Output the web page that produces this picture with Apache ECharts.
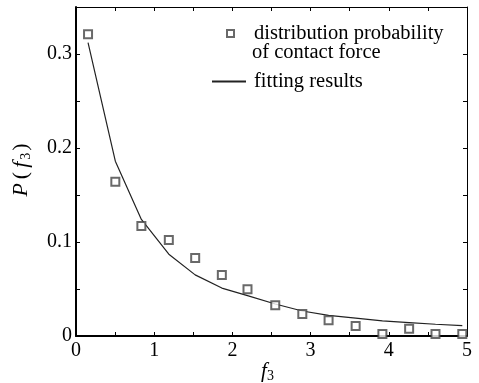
<!DOCTYPE html>
<html><head><meta charset="utf-8">
<script src="https://cdn.jsdelivr.net/npm/echarts@6/dist/echarts.min.js"></script>
<style>html,body{margin:0;padding:0;background:#fff}#c{width:479px;height:383px}</style>
</head><body><div id="c"></div>
<script>
var xValues = [0.154, 0.503, 0.836, 1.187, 1.524, 1.865, 2.193, 2.548, 2.894, 3.23, 3.576, 3.918, 4.26, 4.597, 4.94];
var probValues = [0.321, 0.164, 0.117, 0.102, 0.083, 0.065, 0.0497, 0.0327, 0.0234, 0.0167, 0.0106, 0.002, 0.0078, 0.002, 0.002];
var fitValues = [0.312, 0.186, 0.124, 0.087, 0.065, 0.051, 0.043, 0.034, 0.0266, 0.022, 0.019, 0.016, 0.0142, 0.0125, 0.011];
var xTicks = [0, 1, 2, 3, 4, 5];
var yTicks = [0, 0.1, 0.2, 0.3];
var seriesNames = ['distribution probability', 'fitting results'];
var legendExtra = 'of contact force';

var serif = '"Liberation Serif","Times New Roman",serif';
var chart = echarts.init(document.getElementById('c'), null, {renderer: 'canvas'});
function pairs(xs, ys) { return xs.map(function (x, i) { return [x, ys[i]]; }); }
var axisCommon = {
  min: 0,
  axisLine: {show: true, onZero: false, lineStyle: {color: '#000', width: 1}},
  axisTick: {show: true, inside: true, length: 4, lineStyle: {color: '#000'}},
  minorTick: {show: true, splitNumber: 2, length: 4, lineStyle: {color: '#000'}},
  splitLine: {show: false}
};
var legendText = {fontFamily: serif, fontSize: 20.5, color: '#000'};
var option = {
  animation: false,
  grid: {left: 76, right: 12, top: 7, bottom: 47, containLabel: false, outerBoundsMode: 'none'},
  xAxis: [
    Object.assign({}, axisCommon, {
      type: 'value', max: 5, interval: 1, position: 'bottom',
      axisLine: {show: true, onZero: false, lineStyle: {color: '#000', width: 2}},
      axisLabel: {fontFamily: serif, fontSize: 20, color: '#000', margin: 5,
        formatter: function (v) { return xTicks.indexOf(v) >= 0 ? String(v) : ''; }},
      name: '{i|f}{s|3}', nameLocation: 'middle', nameGap: 23, nameMoveOverlap: false,
      nameTextStyle: {padding: [0, 8, 0, 0], rich: {
        i: {fontFamily: serif, fontStyle: 'italic', fontSize: 21, color: '#000'},
        s: {fontFamily: serif, fontSize: 14, color: '#000', padding: [10, 0, 0, 0]}
      }}
    }),
    Object.assign({}, axisCommon, {
      type: 'value', max: 5, interval: 1, position: 'top', axisLabel: {show: false}
    })
  ],
  yAxis: [
    Object.assign({}, axisCommon, {
      type: 'value', max: 0.35, interval: 0.1, position: 'left',
      axisLine: {show: true, onZero: false, lineStyle: {color: '#000', width: 2}},
      axisLabel: {fontFamily: serif, fontSize: 20, color: '#000', margin: 4, showMaxLabel: false,
        padding: [4, 0, 0, 0],
        formatter: function (v) {
          for (var k = 0; k < yTicks.length; k++) { if (Math.abs(yTicks[k] - v) < 1e-9) return String(yTicks[k]); }
          return '';
        }},
      name: '{i|P}{n|(}{i|f}{s|3}{n|)}', nameLocation: 'middle', nameGap: 43, nameRotate: 90,
      nameMoveOverlap: false,
      nameTextStyle: {padding: [0, 0, 0, 3], rich: {
        i: {fontFamily: serif, fontStyle: 'italic', fontSize: 22, color: '#000', padding: [0, 2, 0, 2]},
        n: {fontFamily: serif, fontSize: 22, color: '#000', padding: [0, 2, 0, 2]},
        s: {fontFamily: serif, fontSize: 14, color: '#000', padding: [10, 0, 0, 0]}
      }}
    }),
    Object.assign({}, axisCommon, {
      type: 'value', max: 0.35, interval: 0.1, position: 'right', axisLabel: {show: false}
    })
  ],
  legend: [
    {
      orient: 'vertical', left: 226, top: 23, padding: 0, itemWidth: 7, itemHeight: 7,
      textStyle: Object.assign({padding: [0, 0, 0, 15]}, legendText),
      data: [{name: seriesNames[0]}]
    },
    {
      orient: 'vertical', left: 211, top: 71, padding: 0, itemWidth: 34, itemHeight: 7,
      textStyle: Object.assign({padding: [0, 0, 0, 3]}, legendText),
      data: [{name: seriesNames[1], itemStyle: {opacity: 0}}]
    }
  ],
  graphic: [{
    type: 'text', left: 252, top: 42,
    style: {text: legendExtra, font: '20.5px ' + serif, fill: '#000'}
  }],
  series: [
    {
      name: seriesNames[0], type: 'scatter', symbol: 'emptyRect', symbolSize: 8,
      itemStyle: {color: '#444', borderColor: '#444', borderWidth: 0.9},
      data: pairs(xValues, probValues), z: 3
    },
    {
      name: seriesNames[1], type: 'line', symbol: 'none', showSymbol: false,
      itemStyle: {color: '#222'},
      lineStyle: {color: '#222', width: 1.2},
      data: pairs(xValues, fitValues), z: 2
    }
  ]
};
chart.setOption(option);
</script>
</body></html>
